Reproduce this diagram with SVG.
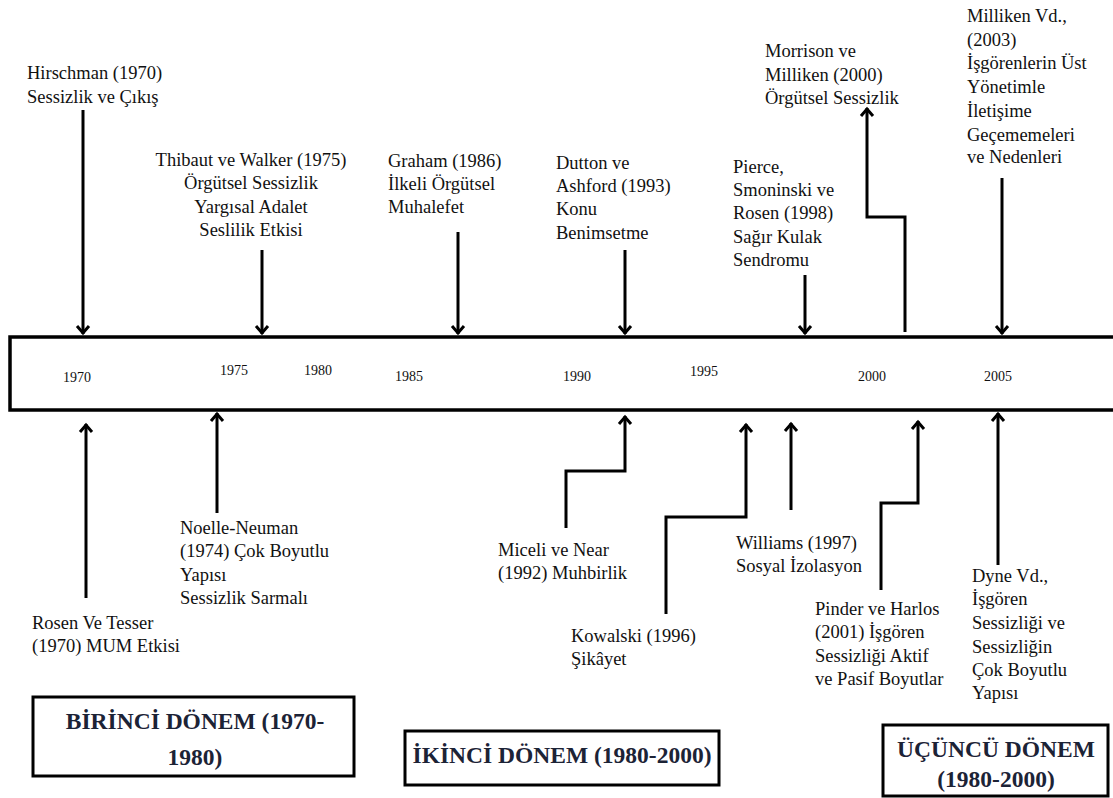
<svg xmlns="http://www.w3.org/2000/svg" width="1113" height="798" viewBox="0 0 1113 798">
<style>
  .lbl { font-family: "Liberation Serif", "Times New Roman", serif; font-size: 18.5px; fill: #111; }
  .yr { font-family: "Liberation Serif", "Times New Roman", serif; font-size: 14px; fill: #111; }
  .conn { fill: none; stroke: #000; stroke-width: 3; stroke-linejoin: miter; }
  .box { fill: #fff; stroke: #000; stroke-width: 3; }
  .ttl { font-family: "Liberation Serif", "Times New Roman", serif; font-size: 23.5px; font-weight: bold; fill: #1c2336; text-anchor: middle; }
</style>
<defs>
  <marker id="chev" viewBox="-10 -8 12 16" refX="0" refY="0" markerWidth="12" markerHeight="16" markerUnits="userSpaceOnUse" orient="auto">
    <path d="M -8 -6 L -1 0 L -8 6" fill="none" stroke="#000" stroke-width="3" stroke-linejoin="miter"/>
  </marker>
</defs>
<rect width="1113" height="798" fill="#fff"/>

<g id="timeline">
  <rect x="10" y="337" width="1115" height="73" fill="#fff" stroke="#000" stroke-width="3.5"/>
  <text class="yr" x="77" y="382" text-anchor="middle">1970</text>
  <text class="yr" x="234" y="375" text-anchor="middle">1975</text>
  <text class="yr" x="318" y="375" text-anchor="middle">1980</text>
  <text class="yr" x="409" y="381" text-anchor="middle">1985</text>
  <text class="yr" x="577" y="381" text-anchor="middle">1990</text>
  <text class="yr" x="704" y="376" text-anchor="middle">1995</text>
  <text class="yr" x="872" y="381" text-anchor="middle">2000</text>
  <text class="yr" x="998" y="381" text-anchor="middle">2005</text>
</g>

<g id="connectors">
  <path class="conn" d="M 83 110 L 83 334" marker-end="url(#chev)"/>
  <path class="conn" d="M 262 250 L 262 334" marker-end="url(#chev)"/>
  <path class="conn" d="M 458 232 L 458 334" marker-end="url(#chev)"/>
  <path class="conn" d="M 625 250 L 625 334" marker-end="url(#chev)"/>
  <path class="conn" d="M 805 275 L 805 334" marker-end="url(#chev)"/>
  <path class="conn" d="M 1002 178 L 1002 334" marker-end="url(#chev)"/>
  <path class="conn" d="M 905 332 L 905 217 L 867 217 L 867 108" marker-end="url(#chev)"/>
  <path class="conn" d="M 86 598 L 86 424" marker-end="url(#chev)"/>
  <path class="conn" d="M 217 513 L 217 413" marker-end="url(#chev)"/>
  <path class="conn" d="M 566 528 L 566 471 L 625 471 L 625 416" marker-end="url(#chev)"/>
  <path class="conn" d="M 666 614 L 666 517 L 746 517 L 746 424" marker-end="url(#chev)"/>
  <path class="conn" d="M 791 510 L 791 423" marker-end="url(#chev)"/>
  <path class="conn" d="M 881 590 L 881 503 L 918 503 L 918 421" marker-end="url(#chev)"/>
  <path class="conn" d="M 998 565 L 998 413" marker-end="url(#chev)"/>
</g>

<g id="node-hirschman">
  <text class="lbl" x="27" y="79">Hirschman (1970)</text>
  <text class="lbl" x="27" y="103">Sessizlik ve Çıkış</text>
</g>
<g id="node-thibaut">
  <text class="lbl" x="251" y="166" text-anchor="middle">Thibaut ve Walker (1975)</text>
  <text class="lbl" x="251" y="189" text-anchor="middle">Örgütsel Sessizlik</text>
  <text class="lbl" x="251" y="213" text-anchor="middle">Yargısal Adalet</text>
  <text class="lbl" x="251" y="236" text-anchor="middle">Seslilik  Etkisi</text>
</g>
<g id="node-graham">
  <text class="lbl" x="388" y="167">Graham (1986)</text>
  <text class="lbl" x="388" y="190">İlkeli  Örgütsel</text>
  <text class="lbl" x="388" y="213">Muhalefet</text>
</g>
<g id="node-dutton">
  <text class="lbl" x="556" y="169">Dutton ve</text>
  <text class="lbl" x="556" y="192">Ashford (1993)</text>
  <text class="lbl" x="556" y="215">Konu</text>
  <text class="lbl" x="556" y="239">Benimsetme</text>
</g>
<g id="node-pierce">
  <text class="lbl" x="733" y="173">Pierce,</text>
  <text class="lbl" x="733" y="196">Smoninski ve</text>
  <text class="lbl" x="733" y="219">Rosen (1998)</text>
  <text class="lbl" x="733" y="243">Sağır Kulak</text>
  <text class="lbl" x="733" y="266">Sendromu</text>
</g>
<g id="node-morrison">
  <text class="lbl" x="765" y="57">Morrison ve</text>
  <text class="lbl" x="765" y="81">Milliken  (2000)</text>
  <text class="lbl" x="765" y="104">Örgütsel Sessizlik</text>
</g>
<g id="node-milliken">
  <text class="lbl" x="967" y="22">Milliken  Vd.,</text>
  <text class="lbl" x="967" y="46">(2003)</text>
  <text class="lbl" x="967" y="69">İşgörenlerin Üst</text>
  <text class="lbl" x="967" y="93">Yönetimle</text>
  <text class="lbl" x="967" y="117">İletişime</text>
  <text class="lbl" x="967" y="141">Geçememeleri</text>
  <text class="lbl" x="967" y="163">ve Nedenleri</text>
</g>

<g id="node-rosen">
  <text class="lbl" x="32" y="629">Rosen Ve Tesser</text>
  <text class="lbl" x="32" y="652">(1970)  MUM Etkisi</text>
</g>
<g id="node-noelle">
  <text class="lbl" x="180" y="534">Noelle-Neuman</text>
  <text class="lbl" x="180" y="557">(1974)  Çok Boyutlu</text>
  <text class="lbl" x="180" y="581">Yapısı</text>
  <text class="lbl" x="180" y="604">Sessizlik  Sarmalı</text>
</g>
<g id="node-miceli">
  <text class="lbl" x="498" y="556">Miceli  ve Near</text>
  <text class="lbl" x="498" y="579">(1992)  Muhbirlik</text>
</g>
<g id="node-kowalski">
  <text class="lbl" x="571" y="642">Kowalski (1996)</text>
  <text class="lbl" x="571" y="665">Şikâyet</text>
</g>
<g id="node-williams">
  <text class="lbl" x="736" y="549">Williams (1997)</text>
  <text class="lbl" x="736" y="572">Sosyal İzolasyon</text>
</g>
<g id="node-pinder">
  <text class="lbl" x="815" y="615">Pinder ve Harlos</text>
  <text class="lbl" x="815" y="638">(2001)  İşgören</text>
  <text class="lbl" x="815" y="662">Sessizliği  Aktif</text>
  <text class="lbl" x="815" y="685">ve Pasif Boyutlar</text>
</g>
<g id="node-dyne">
  <text class="lbl" x="972" y="582">Dyne Vd.,</text>
  <text class="lbl" x="972" y="605">İşgören</text>
  <text class="lbl" x="972" y="629">Sessizliği ve</text>
  <text class="lbl" x="972" y="653">Sessizliğin</text>
  <text class="lbl" x="972" y="676">Çok Boyutlu</text>
  <text class="lbl" x="972" y="699">Yapısı</text>
</g>

<g id="period-1">
  <rect class="box" x="33" y="697" width="321" height="79"/>
  <text class="ttl" x="195" y="729">BİRİNCİ DÖNEM (1970-</text>
  <text class="ttl" x="195" y="765">1980)</text>
</g>
<g id="period-2">
  <rect class="box" x="405" y="731" width="314" height="54"/>
  <text class="ttl" x="562" y="763">İKİNCİ DÖNEM (1980-2000)</text>
</g>
<g id="period-3">
  <rect class="box" x="883" y="725" width="225" height="71"/>
  <text class="ttl" x="996" y="757">ÜÇÜNCÜ  DÖNEM</text>
  <text class="ttl" x="996" y="787">(1980-2000)</text>
</g>
</svg>
